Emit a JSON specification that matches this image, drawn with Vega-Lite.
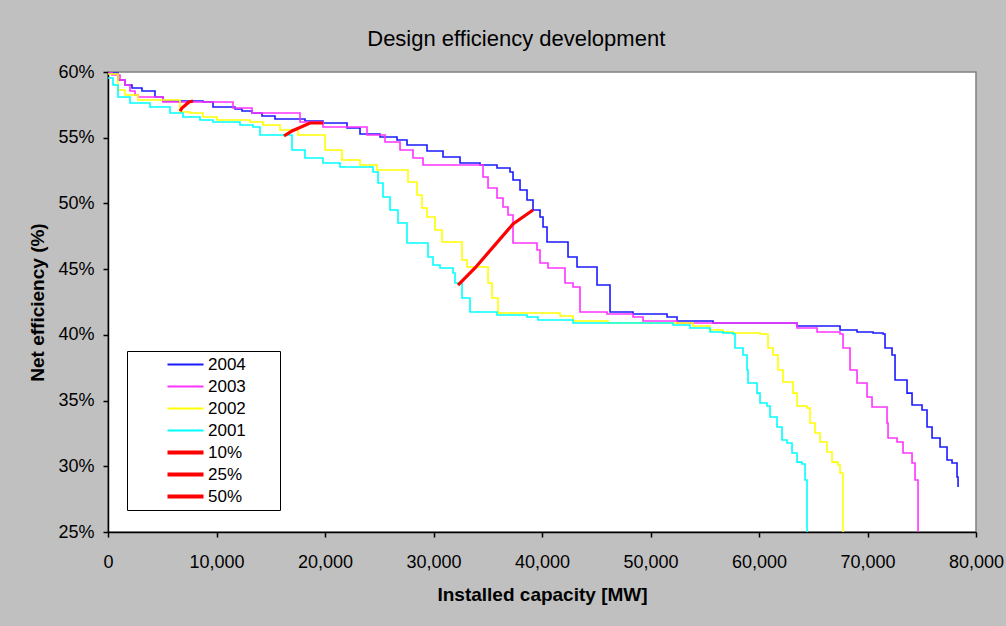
{
  "$schema": "https://vega.github.io/schema/vega-lite/v6.json",
  "width": 868,
  "height": 460,
  "autosize": {"type": "none"},
  "padding": {"left": 108, "top": 72, "right": 30, "bottom": 94},
  "background": "#c0c0c0",
  "title": {"text": "Design efficiency development", "font": "Liberation Sans", "fontSize": 22, "fontWeight": "normal", "color": "black", "frame": "bounds", "anchor": "middle", "offset": 12},
  "config": {
    "view": {"fill": "white", "stroke": "#808080", "strokeWidth": 1.5},
    "axis": {"labelFont": "Liberation Sans", "titleFont": "Liberation Sans", "labelColor": "black", "titleColor": "black", "domainColor": "black", "tickColor": "black", "domainWidth": 1.5, "tickWidth": 1.5, "tickSize": 5, "grid": false, "labelFontSize": 18, "titleFontSize": 19, "titleFontWeight": "bold"}
  },
  "datasets": {
    "curves": [
      {"s": "2004", "x": 0, "y": 59.92}, {"s": "2004", "x": 922, "y": 59.39}, {"s": "2004", "x": 1567, "y": 59.01}, {"s": "2004", "x": 2212, "y": 58.78}, {"s": "2004", "x": 3134, "y": 58.55}, {"s": "2004", "x": 4332, "y": 58.10}, {"s": "2004", "x": 5069, "y": 57.79}, {"s": "2004", "x": 8756, "y": 57.72}, {"s": "2004", "x": 9678, "y": 57.34}, {"s": "2004", "x": 11706, "y": 57.18}, {"s": "2004", "x": 12351, "y": 57.03}, {"s": "2004", "x": 13272, "y": 56.88}, {"s": "2004", "x": 14194, "y": 56.65}, {"s": "2004", "x": 15392, "y": 56.42}, {"s": "2004", "x": 18157, "y": 56.27}, {"s": "2004", "x": 19817, "y": 56.12}, {"s": "2004", "x": 22029, "y": 55.74}, {"s": "2004", "x": 23227, "y": 55.28}, {"s": "2004", "x": 25070, "y": 55.05}, {"s": "2004", "x": 26637, "y": 54.83}, {"s": "2004", "x": 27559, "y": 54.45}, {"s": "2004", "x": 29402, "y": 53.99}, {"s": "2004", "x": 30877, "y": 53.53}, {"s": "2004", "x": 32444, "y": 53.08}, {"s": "2004", "x": 34287, "y": 52.92}, {"s": "2004", "x": 35854, "y": 52.70}, {"s": "2004", "x": 37052, "y": 52.39}, {"s": "2004", "x": 37329, "y": 51.78}, {"s": "2004", "x": 37974, "y": 51.02}, {"s": "2004", "x": 38619, "y": 50.26}, {"s": "2004", "x": 39172, "y": 49.50}, {"s": "2004", "x": 39817, "y": 48.97}, {"s": "2004", "x": 40094, "y": 48.21}, {"s": "2004", "x": 40463, "y": 47.06}, {"s": "2004", "x": 42398, "y": 45.92}, {"s": "2004", "x": 43228, "y": 45.16}, {"s": "2004", "x": 45071, "y": 43.79}, {"s": "2004", "x": 46269, "y": 41.74}, {"s": "2004", "x": 48389, "y": 41.59}, {"s": "2004", "x": 51523, "y": 41.36}, {"s": "2004", "x": 52445, "y": 41.05}, {"s": "2004", "x": 55763, "y": 40.90}, {"s": "2004", "x": 63505, "y": 40.67}, {"s": "2004", "x": 67468, "y": 40.37}, {"s": "2004", "x": 69035, "y": 40.22}, {"s": "2004", "x": 70510, "y": 40.14}, {"s": "2004", "x": 71432, "y": 40.06}, {"s": "2004", "x": 71616, "y": 39.00}, {"s": "2004", "x": 72261, "y": 38.47}, {"s": "2004", "x": 72538, "y": 36.56}, {"s": "2004", "x": 73644, "y": 35.57}, {"s": "2004", "x": 74105, "y": 34.66}, {"s": "2004", "x": 75026, "y": 34.28}, {"s": "2004", "x": 75487, "y": 32.99}, {"s": "2004", "x": 75948, "y": 32.15}, {"s": "2004", "x": 76685, "y": 31.47}, {"s": "2004", "x": 77330, "y": 30.48}, {"s": "2004", "x": 77791, "y": 30.25}, {"s": "2004", "x": 78252, "y": 29.18}, {"s": "2004", "x": 78345, "y": 28.42},

      {"s": "2003", "x": 0, "y": 60.00}, {"s": "2003", "x": 369, "y": 59.77}, {"s": "2003", "x": 1106, "y": 59.39}, {"s": "2003", "x": 1567, "y": 59.01}, {"s": "2003", "x": 2028, "y": 58.55}, {"s": "2003", "x": 2489, "y": 58.25}, {"s": "2003", "x": 2765, "y": 58.10}, {"s": "2003", "x": 5069, "y": 57.72}, {"s": "2003", "x": 11521, "y": 57.26}, {"s": "2003", "x": 13272, "y": 56.88}, {"s": "2003", "x": 17697, "y": 56.20}, {"s": "2003", "x": 19817, "y": 55.82}, {"s": "2003", "x": 23872, "y": 55.21}, {"s": "2003", "x": 25531, "y": 54.67}, {"s": "2003", "x": 26914, "y": 54.07}, {"s": "2003", "x": 28112, "y": 53.46}, {"s": "2003", "x": 29034, "y": 52.92}, {"s": "2003", "x": 34564, "y": 52.01}, {"s": "2003", "x": 35025, "y": 51.17}, {"s": "2003", "x": 35854, "y": 50.41}, {"s": "2003", "x": 36407, "y": 49.73}, {"s": "2003", "x": 36868, "y": 49.12}, {"s": "2003", "x": 37329, "y": 46.99}, {"s": "2003", "x": 39541, "y": 46.46}, {"s": "2003", "x": 39817, "y": 45.47}, {"s": "2003", "x": 40555, "y": 45.09}, {"s": "2003", "x": 42122, "y": 43.94}, {"s": "2003", "x": 42859, "y": 43.64}, {"s": "2003", "x": 43504, "y": 41.74}, {"s": "2003", "x": 45993, "y": 41.59}, {"s": "2003", "x": 48389, "y": 41.36}, {"s": "2003", "x": 49311, "y": 41.05}, {"s": "2003", "x": 52445, "y": 40.90}, {"s": "2003", "x": 63505, "y": 40.52}, {"s": "2003", "x": 65349, "y": 40.22}, {"s": "2003", "x": 67468, "y": 40.06}, {"s": "2003", "x": 67745, "y": 39.00}, {"s": "2003", "x": 68390, "y": 37.33}, {"s": "2003", "x": 69035, "y": 36.34}, {"s": "2003", "x": 69957, "y": 35.27}, {"s": "2003", "x": 70418, "y": 34.51}, {"s": "2003", "x": 71800, "y": 33.29}, {"s": "2003", "x": 71893, "y": 32.15}, {"s": "2003", "x": 72722, "y": 31.85}, {"s": "2003", "x": 73275, "y": 31.01}, {"s": "2003", "x": 74105, "y": 30.25}, {"s": "2003", "x": 74381, "y": 28.96}, {"s": "2003", "x": 74658, "y": 25.00},

      {"s": "2002", "x": 0, "y": 59.85}, {"s": "2002", "x": 922, "y": 58.63}, {"s": "2002", "x": 1567, "y": 58.25}, {"s": "2002", "x": 2765, "y": 57.87}, {"s": "2002", "x": 6636, "y": 56.96}, {"s": "2002", "x": 7558, "y": 56.88}, {"s": "2002", "x": 8756, "y": 56.58}, {"s": "2002", "x": 10047, "y": 56.35}, {"s": "2002", "x": 13088, "y": 56.20}, {"s": "2002", "x": 14286, "y": 55.97}, {"s": "2002", "x": 15853, "y": 55.59}, {"s": "2002", "x": 17512, "y": 55.21}, {"s": "2002", "x": 20001, "y": 54.07}, {"s": "2002", "x": 21568, "y": 53.30}, {"s": "2002", "x": 23227, "y": 52.92}, {"s": "2002", "x": 24794, "y": 52.54}, {"s": "2002", "x": 27651, "y": 51.63}, {"s": "2002", "x": 28481, "y": 50.64}, {"s": "2002", "x": 28941, "y": 49.65}, {"s": "2002", "x": 29402, "y": 48.97}, {"s": "2002", "x": 30140, "y": 47.98}, {"s": "2002", "x": 30785, "y": 47.06}, {"s": "2002", "x": 32628, "y": 45.69}, {"s": "2002", "x": 33089, "y": 45.16}, {"s": "2002", "x": 35025, "y": 43.94}, {"s": "2002", "x": 35393, "y": 42.80}, {"s": "2002", "x": 35946, "y": 41.66}, {"s": "2002", "x": 41661, "y": 41.43}, {"s": "2002", "x": 42859, "y": 41.05}, {"s": "2002", "x": 46085, "y": 40.90}, {"s": "2002", "x": 53920, "y": 40.67}, {"s": "2002", "x": 55486, "y": 40.37}, {"s": "2002", "x": 56685, "y": 40.22}, {"s": "2002", "x": 57606, "y": 40.14}, {"s": "2002", "x": 60095, "y": 40.06}, {"s": "2002", "x": 60832, "y": 39.00}, {"s": "2002", "x": 61293, "y": 38.47}, {"s": "2002", "x": 61754, "y": 37.33}, {"s": "2002", "x": 62215, "y": 36.41}, {"s": "2002", "x": 63136, "y": 35.57}, {"s": "2002", "x": 63505, "y": 34.59}, {"s": "2002", "x": 64427, "y": 34.43}, {"s": "2002", "x": 64703, "y": 33.29}, {"s": "2002", "x": 65164, "y": 32.53}, {"s": "2002", "x": 65625, "y": 31.85}, {"s": "2002", "x": 66270, "y": 31.09}, {"s": "2002", "x": 66731, "y": 30.32}, {"s": "2002", "x": 67284, "y": 30.10}, {"s": "2002", "x": 67468, "y": 29.49}, {"s": "2002", "x": 67745, "y": 25.00},

      {"s": "2001", "x": 0, "y": 59.54}, {"s": "2001", "x": 461, "y": 59.01}, {"s": "2001", "x": 922, "y": 58.10}, {"s": "2001", "x": 2028, "y": 57.64}, {"s": "2001", "x": 3871, "y": 57.34}, {"s": "2001", "x": 5715, "y": 56.88}, {"s": "2001", "x": 6913, "y": 56.58}, {"s": "2001", "x": 8480, "y": 56.35}, {"s": "2001", "x": 9678, "y": 56.20}, {"s": "2001", "x": 12166, "y": 55.97}, {"s": "2001", "x": 13365, "y": 55.82}, {"s": "2001", "x": 14010, "y": 55.21}, {"s": "2001", "x": 16959, "y": 54.07}, {"s": "2001", "x": 18157, "y": 53.46}, {"s": "2001", "x": 19817, "y": 53.08}, {"s": "2001", "x": 21383, "y": 52.77}, {"s": "2001", "x": 24425, "y": 52.39}, {"s": "2001", "x": 24886, "y": 51.55}, {"s": "2001", "x": 25347, "y": 50.49}, {"s": "2001", "x": 25992, "y": 49.50}, {"s": "2001", "x": 26729, "y": 48.51}, {"s": "2001", "x": 27559, "y": 46.99}, {"s": "2001", "x": 29494, "y": 45.92}, {"s": "2001", "x": 29955, "y": 45.31}, {"s": "2001", "x": 30600, "y": 45.09}, {"s": "2001", "x": 31799, "y": 44.71}, {"s": "2001", "x": 31983, "y": 43.94}, {"s": "2001", "x": 32628, "y": 42.80}, {"s": "2001", "x": 33366, "y": 41.74}, {"s": "2001", "x": 35854, "y": 41.51}, {"s": "2001", "x": 38619, "y": 41.36}, {"s": "2001", "x": 39633, "y": 41.13}, {"s": "2001", "x": 42859, "y": 40.90}, {"s": "2001", "x": 52076, "y": 40.75}, {"s": "2001", "x": 53643, "y": 40.52}, {"s": "2001", "x": 55486, "y": 40.22}, {"s": "2001", "x": 56685, "y": 40.14}, {"s": "2001", "x": 57606, "y": 40.06}, {"s": "2001", "x": 57791, "y": 39.00}, {"s": "2001", "x": 58528, "y": 38.47}, {"s": "2001", "x": 58897, "y": 37.33}, {"s": "2001", "x": 58989, "y": 36.34}, {"s": "2001", "x": 59818, "y": 35.57}, {"s": "2001", "x": 60095, "y": 34.81}, {"s": "2001", "x": 60740, "y": 34.59}, {"s": "2001", "x": 61017, "y": 33.75}, {"s": "2001", "x": 61662, "y": 32.99}, {"s": "2001", "x": 62123, "y": 32.00}, {"s": "2001", "x": 62583, "y": 31.77}, {"s": "2001", "x": 63044, "y": 31.01}, {"s": "2001", "x": 63505, "y": 30.32}, {"s": "2001", "x": 63966, "y": 30.17}, {"s": "2001", "x": 64242, "y": 28.96}, {"s": "2001", "x": 64427, "y": 25.00}
    ],
    "quantiles": [
      {"s": "10%", "x": 6636, "y": 57.03}, {"s": "10%", "x": 6820, "y": 57.26}, {"s": "10%", "x": 7466, "y": 57.72}, {"s": "10%", "x": 7834, "y": 57.79},
      {"s": "25%", "x": 16222, "y": 55.13}, {"s": "25%", "x": 16959, "y": 55.51}, {"s": "25%", "x": 18618, "y": 56.12}, {"s": "25%", "x": 19817, "y": 56.12},
      {"s": "50%", "x": 32260, "y": 43.79}, {"s": "50%", "x": 33827, "y": 45.09}, {"s": "50%", "x": 37329, "y": 48.43}, {"s": "50%", "x": 39172, "y": 49.50}
    ]
  },
  "encoding": {
    "x": {"field": "x", "type": "quantitative", "scale": {"domain": [0, 80000], "nice": false}, "axis": {"title": "Installed capacity [MW]", "values": [0, 10000, 20000, 30000, 40000, 50000, 60000, 70000, 80000], "format": ",d", "labelFlush": false, "labelPadding": 16, "titlePadding": 14}},
    "y": {"field": "y", "type": "quantitative", "scale": {"domain": [25, 60], "nice": false, "zero": false}, "axis": {"title": "Net efficiency (%)", "values": [25, 30, 35, 40, 45, 50, 55, 60], "labelExpr": "datum.value + '%'", "labelPadding": 9, "titlePadding": 10}},
    "color": {"field": "s", "type": "nominal", "scale": {"domain": ["2004", "2003", "2002", "2001", "10%", "25%", "50%"], "range": ["#1a1aff", "#ff33ff", "#ffff00", "#00ffff", "#ff0000", "#ff0000", "#ff0000"]},
      "legend": {"orient": "none", "legendX": 19, "legendY": 279, "title": null, "symbolType": "stroke", "symbolSize": 1296, "symbolStrokeWidth": 2, "fillColor": "white", "strokeColor": "black", "padding": 5, "rowPadding": 4, "labelFontSize": 17, "labelFont": "Liberation Sans", "labelColor": "black", "symbolOffset": 45, "labelOffset": 14, "labelExpr": "datum.label + '\u00a0\u00a0\u00a0\u00a0\u00a0\u00a0\u200b'",
        "encode": {"symbols": {"update": {"strokeWidth": {"signal": "indexof(['10%','25%','50%'], datum.value) >= 0 ? 4 : 2"}}}}}}
  },
  "layer": [
    {"data": {"name": "curves"}, "mark": {"type": "line", "interpolate": "step-after", "strokeWidth": 1.6, "clip": true}},
    {"data": {"name": "quantiles"}, "mark": {"type": "line", "interpolate": "linear", "strokeWidth": 3.2, "clip": true}}
  ]
}
